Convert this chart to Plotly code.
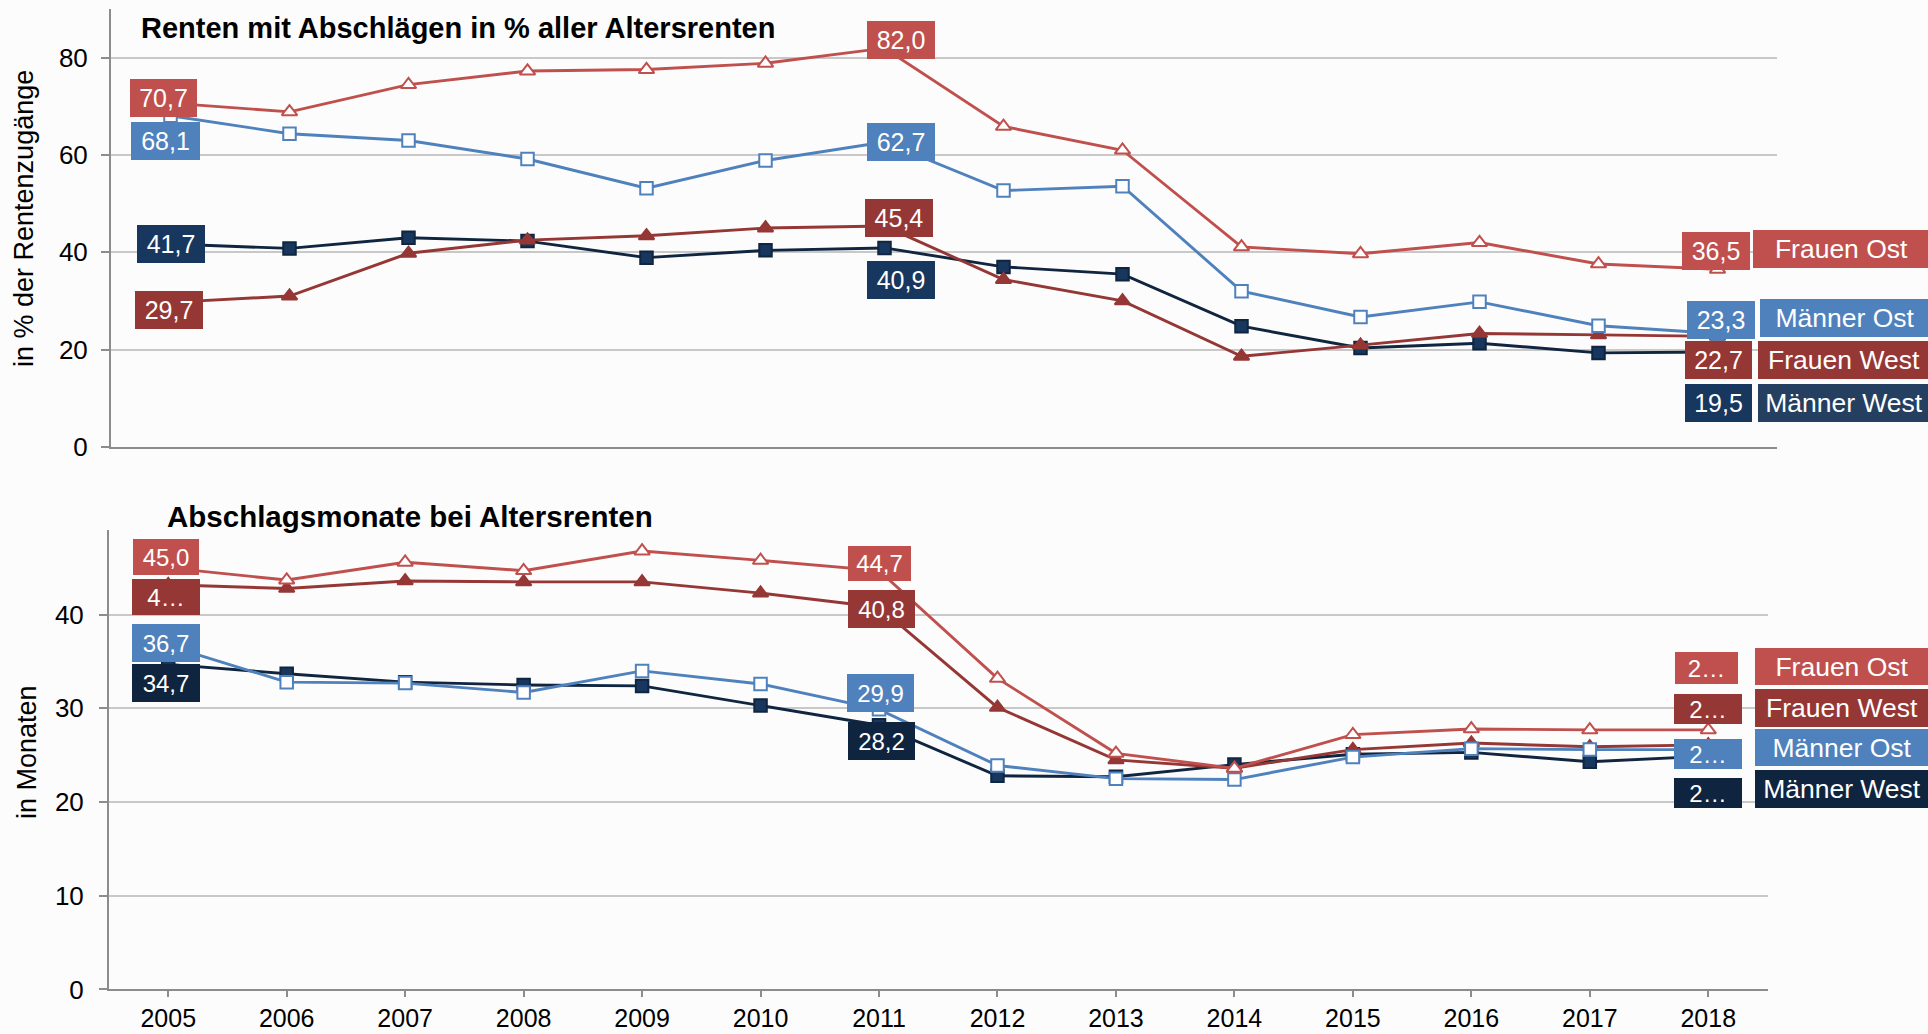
import plotly.graph_objects as go

# ---- data -------------------------------------------------------------
years = list(range(2005, 2019))
series_names = ["Männer West", "Frauen West", "Männer Ost", "Frauen Ost"]

# Renten mit Abschlägen in % aller Altersrenten
maenner_west_pct = [41.7, 40.8, 43.0, 42.3, 38.9, 40.4, 40.9, 37.0, 35.5, 24.8, 20.3, 21.3, 19.3, 19.5]
frauen_west_pct = [29.7, 31.0, 39.8, 42.5, 43.4, 45.0, 45.4, 34.4, 30.0, 18.6, 20.9, 23.3, 23.0, 22.7]
maenner_ost_pct = [68.1, 64.4, 63.0, 59.2, 53.2, 58.9, 62.7, 52.7, 53.6, 32.0, 26.7, 29.8, 24.9, 23.3]
frauen_ost_pct = [70.7, 68.9, 74.5, 77.3, 77.6, 78.9, 82.0, 65.9, 61.0, 41.1, 39.7, 42.0, 37.6, 36.5]

# Abschlagsmonate bei Altersrenten
maenner_west_mon = [34.7, 33.7, 32.8, 32.5, 32.4, 30.3, 28.2, 22.8, 22.7, 24.0, 25.1, 25.3, 24.3, 24.9]
frauen_west_mon = [43.2, 42.8, 43.6, 43.5, 43.5, 42.3, 40.8, 30.1, 24.5, 23.6, 25.6, 26.3, 25.9, 26.1]
maenner_ost_mon = [36.7, 32.8, 32.7, 31.7, 34.0, 32.6, 29.9, 23.9, 22.5, 22.4, 24.8, 25.7, 25.6, 25.6]
frauen_ost_mon = [45.0, 43.7, 45.6, 44.7, 46.8, 45.8, 44.7, 33.2, 25.2, 23.6, 27.2, 27.8, 27.7, 27.7]

y_ticks_pct = [0, 20, 40, 60, 80]
y_ticks_mon = [0, 10, 20, 30, 40]

title_top = "Renten mit Abschlägen in % aller Altersrenten"
title_bottom = "Abschlagsmonate bei Altersrenten"
ytitle_top = "in % der Rentenzugänge"
ytitle_bottom = "in Monaten"

# ---- styles -----------------------------------------------------------
W, H = 1928, 1034
FONT = "Liberation Sans, Arial, sans-serif"
styles = {
    "Männer West": dict(line="#10253F", box="#17375E", name_box="#243F60",
                        symbol="square", fill="#17375E", size=12.5),
    "Frauen West": dict(line="#953735", box="#953735", name_box="#953735",
                        symbol="triangle-up", fill="#953735", size=13.5),
    "Männer Ost": dict(line="#4F81BD", box="#4F81BD", name_box="#4F81BD",
                       symbol="square", fill="white", size=12.5),
    "Frauen Ost": dict(line="#C0504D", box="#C0504D", name_box="#C0504D",
                       symbol="triangle-up", fill="white", size=13.5),
}
bottom_box = {"Männer West": "#0F243E"}

top_data = dict(zip(series_names, [maenner_west_pct, frauen_west_pct, maenner_ost_pct, frauen_ost_pct]))
bot_data = dict(zip(series_names, [maenner_west_mon, frauen_west_mon, maenner_ost_mon, frauen_ost_mon]))


def fmt(v):
    return f"{v:.1f}".replace(".", ",")


fig = go.Figure()

for axis_id, data in (("", top_data), ("2", bot_data)):
    for name in series_names:
        st = styles[name]
        fig.add_trace(go.Scatter(
            x=years, y=data[name], mode="lines+markers", name=name,
            xaxis="x" + axis_id, yaxis="y" + axis_id, showlegend=False,
            line=dict(color=st["line"], width=2.9),
            marker=dict(symbol=st["symbol"], size=st["size"], color=st["fill"],
                        line=dict(color=st["box"] if name != "Männer West" else st["line"], width=2)),
        ))

# ---- value labels (pixel offsets from the data point, box size) -------
# (series, year index, xshift, yshift, width, height)
top_labels = [
    ("Frauen Ost", 0, -7, 5, 67, 38), ("Männer Ost", 0, -5, -25, 69, 38),
    ("Männer West", 0, 0, 0, 68, 38), ("Frauen West", 0, -2, -8, 68, 38),
    ("Frauen Ost", 6, 16, 8, 68, 38), ("Männer Ost", 6, 16, 0, 68, 38),
    ("Frauen West", 6, 14, 8, 68, 38), ("Männer West", 6, 16, -32, 68, 38),
    ("Frauen Ost", 13, -2, 18, 68, 38), ("Männer Ost", 13, 3, 13, 68, 38),
    ("Frauen West", 13, 1, -24, 67, 38), ("Männer West", 13, 1, -51, 67, 38),
]
top_names = [  # (series, xshift, yshift, width, height)
    ("Frauen Ost", 124, 20, 177, 38), ("Männer Ost", 127, 15, 170, 38),
    ("Frauen West", 126, -24, 172, 38), ("Männer West", 126, -51, 172, 38),
]
bot_labels = [
    ("Frauen Ost", 0, -2, 11, 66, 36, False), ("Frauen West", 0, -2, -12, 68, 36, True),
    ("Männer Ost", 0, -2, 3, 68, 38, False), ("Männer West", 0, -2, -19, 68, 38, False),
    ("Frauen Ost", 6, 0, 7, 63, 35, False), ("Frauen West", 6, 2, -2, 67, 38, False),
    ("Männer Ost", 6, 1, 16, 67, 38, False), ("Männer West", 6, 2, -16, 67, 38, False),
    ("Frauen Ost", 13, -2, 62, 63, 32, True), ("Frauen West", 13, 0, 36, 68, 30, True),
    ("Männer Ost", 13, 0, -4, 68, 30, True), ("Männer West", 13, 0, -37, 68, 30, True),
]
bot_names = [
    ("Frauen Ost", 134, 63, 174, 37), ("Frauen West", 134, 37, 174, 38),
    ("Männer Ost", 134, 2, 174, 37), ("Männer West", 134, -33, 174, 38),
]

ann = []


def box(text, x, y, xr, yr, xs, ys, w, h, color, size):
    ann.append(dict(text=text, x=x, y=y, xref=xr, yref=yr, xshift=xs, yshift=ys,
                    width=w, height=h, bgcolor=color, borderpad=0, borderwidth=0,
                    showarrow=False, align="center", valign="middle",
                    xanchor="center", yanchor="middle",
                    font=dict(family=FONT, size=size, color="white")))


for name, i, xs, ys, w, h in top_labels:
    box(fmt(top_data[name][i]), years[i], top_data[name][i], "x", "y", xs, ys, w, h,
        styles[name]["box"], 25)
for name, xs, ys, w, h in top_names:
    box(name, years[-1], top_data[name][-1], "x", "y", xs, ys, w, h,
        styles[name]["name_box"], 26.5)
for name, i, xs, ys, w, h, cut in bot_labels:
    txt = fmt(bot_data[name][i])
    if cut:
        txt = txt[0] + "…"
    box(txt, years[i], bot_data[name][i], "x2", "y2", xs, ys, w, h,
        bottom_box.get(name, styles[name]["box"]), 24)
for name, xs, ys, w, h in bot_names:
    box(name, years[-1], bot_data[name][-1], "x2", "y2", xs, ys, w, h,
        bottom_box.get(name, styles[name]["box"]), 26.5)

# chart titles and axis titles
ann.append(dict(text=f"<b>{title_top}</b>", x=139 / W, y=1 - 28 / H, xref="paper", yref="paper",
                xanchor="left", yanchor="middle", showarrow=False,
                font=dict(family=FONT, size=29, color="black")))
ann.append(dict(text=f"<b>{title_bottom}</b>", x=165 / W, y=1 - 516 / H, xref="paper", yref="paper",
                xanchor="left", yanchor="middle", showarrow=False,
                font=dict(family=FONT, size=29.5, color="black")))
ann.append(dict(text=ytitle_top, x=24 / W, y=1 - 219 / H, xref="paper", yref="paper",
                xanchor="center", yanchor="middle", textangle=-90, showarrow=False,
                font=dict(family=FONT, size=27, color="black")))
ann.append(dict(text=ytitle_bottom, x=27 / W, y=1 - 752 / H, xref="paper", yref="paper",
                xanchor="center", yanchor="middle", textangle=-90, showarrow=False,
                font=dict(family=FONT, size=27, color="black")))

AXIS = "#8C8C8C"
GRID = "#C8C8C8"
tickfont = dict(family=FONT, size=26, color="black")

fig.update_layout(
    width=W, height=H, margin=dict(l=0, r=0, t=0, b=0),
    paper_bgcolor="#FCFCFC", plot_bgcolor="#FCFCFC",
    annotations=ann,
    xaxis=dict(domain=[111 / W, 1777 / W], range=[2004.5, 2018.5], tickvals=years,
               showticklabels=False, ticks="", showgrid=False, zeroline=False,
               showline=True, linecolor=AXIS, linewidth=2, anchor="y", automargin=False),
    yaxis=dict(domain=[1 - 446.7 / H, 1 - 9.3 / H], range=[0, 90], tickvals=y_ticks_pct,
               ticks="outside", ticklen=8, tickwidth=2, tickcolor=AXIS,
               showline=True, linecolor=AXIS, linewidth=2, zeroline=False,
               showgrid=True, gridcolor=GRID, gridwidth=2, tickfont=tickfont,
               ticklabelstandoff=8, anchor="x", automargin=False),
    xaxis2=dict(domain=[109 / W, 1767.5 / W], range=[2004.5, 2018.5], tickvals=years,
                ticktext=[str(y) for y in years],
                ticks="outside", ticklen=6, tickwidth=2, tickcolor=AXIS,
                showgrid=False, zeroline=False, showline=True, linecolor=AXIS, linewidth=2,
                tickfont=dict(family=FONT, size=25, color="black"),
                ticklabelstandoff=0, anchor="y2", automargin=False),
    yaxis2=dict(domain=[1 - 989.4 / H, 1 - 530.4 / H], range=[0, 49], tickvals=y_ticks_mon,
                ticks="outside", ticklen=8, tickwidth=2, tickcolor=AXIS,
                showline=True, linecolor=AXIS, linewidth=2, zeroline=False,
                showgrid=True, gridcolor=GRID, gridwidth=2, tickfont=tickfont,
                ticklabelstandoff=10, anchor="x2", automargin=False),
)

fig.write_html("out.html")
